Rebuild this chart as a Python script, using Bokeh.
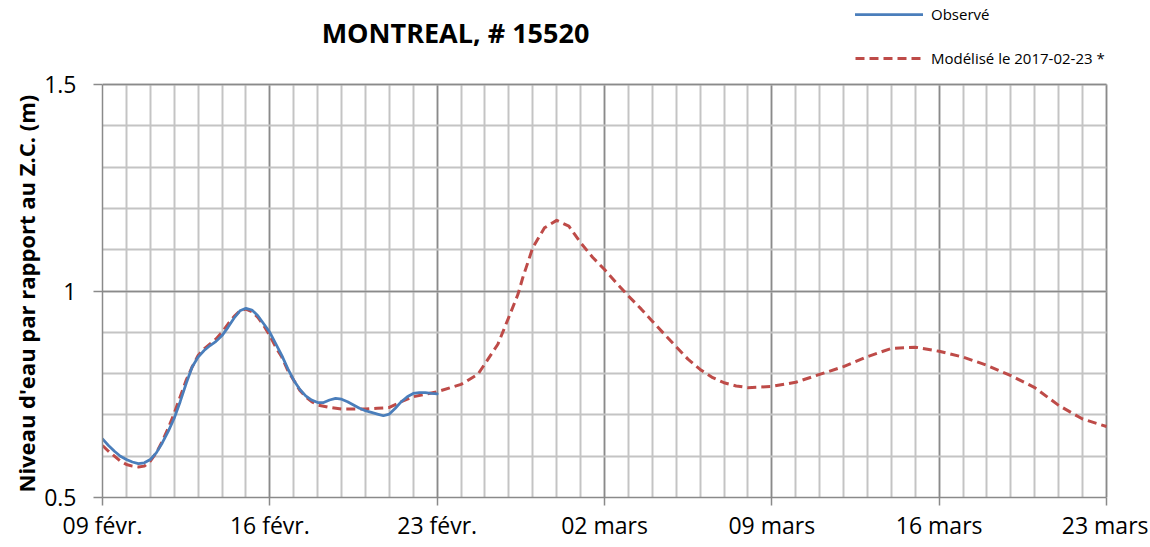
from bokeh.plotting import figure
from bokeh.models import Range1d, FixedTicker, Legend, LegendItem, Label, Title
from bokeh.embed import file_html
from bokeh.resources import INLINE

# ---- data (days after 09 Feb 2017) ----
obs_days = [0, 0.25, 0.5, 0.75, 1, 1.25, 1.5, 1.75, 2, 2.25, 2.5, 2.75, 3,
            3.25, 3.5, 3.75, 4, 4.25, 4.5, 4.75, 5, 5.25, 5.5, 5.75, 6, 6.25,
            6.5, 6.75, 7, 7.25, 7.5, 7.75, 8, 8.25, 8.5, 8.75, 9, 9.25, 9.5,
            9.75, 10, 10.25, 10.5, 10.75, 11, 11.25, 11.5, 11.75, 12, 12.25,
            12.5, 12.75, 13, 13.25, 13.5, 13.75, 14]
obs_vals = [0.642, 0.626, 0.612, 0.600, 0.592, 0.586, 0.582, 0.584, 0.592,
            0.608, 0.632, 0.660, 0.692, 0.732, 0.776, 0.816, 0.840, 0.856,
            0.868, 0.878, 0.892, 0.912, 0.934, 0.952, 0.958, 0.954, 0.940,
            0.920, 0.900, 0.872, 0.844, 0.812, 0.784, 0.762, 0.746, 0.736,
            0.730, 0.730, 0.736, 0.740, 0.738, 0.732, 0.724, 0.716, 0.710,
            0.706, 0.702, 0.698, 0.702, 0.716, 0.732, 0.744, 0.752, 0.754,
            0.754, 0.752, 0.751]

mod_days = [0, 0.25, 0.5, 0.75, 1, 1.25, 1.5, 1.75, 2, 2.25, 2.5, 2.75, 3,
            3.25, 3.5, 3.75, 4, 4.25, 4.5, 4.75, 5, 5.25, 5.5, 5.75, 6, 6.25,
            6.5, 6.75, 7, 7.25, 7.5, 7.75, 8, 8.25, 8.5, 8.75, 9, 9.5, 10,
            10.5, 11, 11.5, 12, 12.5, 13, 13.5, 14, 15, 15.7, 16, 16.54,
            17, 17.38, 17.58, 18, 18.49, 19, 19.51, 20, 20.51, 21, 21.49, 22,
            22.54, 23, 23.51, 24, 24.49, 25, 25.53, 26, 26.51, 27, 28, 29, 30,
            31, 32, 33, 34, 35, 36, 37, 38, 39, 40, 41, 42]
mod_vals = [0.626, 0.612, 0.600, 0.588, 0.580, 0.576, 0.574, 0.576, 0.588,
            0.608, 0.636, 0.668, 0.704, 0.744, 0.784, 0.816, 0.844, 0.860,
            0.872, 0.884, 0.900, 0.920, 0.938, 0.952, 0.956, 0.950, 0.936,
            0.916, 0.892, 0.864, 0.840, 0.808, 0.784, 0.760, 0.744, 0.732,
            0.724, 0.718, 0.714, 0.714, 0.714, 0.716, 0.718, 0.732, 0.744,
            0.750, 0.756, 0.774, 0.798, 0.824, 0.871, 0.937, 0.992, 1.032,
            1.105, 1.153, 1.171, 1.157, 1.117, 1.081, 1.052, 1.020, 0.988,
            0.956, 0.927, 0.895, 0.865, 0.835, 0.810, 0.790, 0.778, 0.770,
            0.766, 0.769, 0.779, 0.798, 0.817, 0.841, 0.861, 0.864, 0.854,
            0.840, 0.820, 0.795, 0.766, 0.723, 0.690, 0.672]

x_tick_days = [0, 7, 14, 21, 28, 35, 42]
x_tick_labels = ["09 févr.", "16 févr.", "23 févr.", "02 mars", "09 mars",
                 "16 mars", "23 mars"]
y_ticks = [0.5, 1.0, 1.5]
y_tick_labels = ["0.5", "1", "1.5"]

title_text = "MONTREAL, # 15520"
y_label = "Niveau d'eau par rapport au Z.C. (m)"
obs_name = "Observé"
mod_name = "Modélisé le 2017-02-23 *"

FONT = "Open Sans"
BLUE = "#4a7ebb"
RED = "#be4b48"
MAJOR = "#8a8a8a"
MINOR = "#c4c4c4"

W, H = 1148, 545
LEFT, BOTTOM = 102, 48
PLOT_TOP_PX = 84          # screen y of value 1.5
PLOT_RIGHT_PX = 1106      # screen x of last day
x_lo, x_hi = x_tick_days[0], x_tick_days[-1]
y_lo, y_hi = y_ticks[0], y_ticks[-1]
frame_h = H - BOTTOM
frame_w = W - LEFT
px_per_day = (PLOT_RIGHT_PX - LEFT) / (x_hi - x_lo)
px_per_unit = (frame_h - PLOT_TOP_PX) / (y_hi - y_lo)
x_end = x_lo + frame_w / px_per_day
y_end = y_lo + frame_h / px_per_unit

p = figure(width=W, height=H, output_backend="svg", toolbar_location=None,
           x_range=Range1d(x_lo, x_end), y_range=Range1d(y_lo, y_end),
           min_border_left=LEFT, min_border_right=0, min_border_top=0,
           min_border_bottom=BOTTOM)
p.outline_line_color = None
p.background_fill_color = "white"
p.border_fill_color = "white"

# axes / ticks
p.xaxis.ticker = FixedTicker(ticks=x_tick_days, minor_ticks=list(range(x_lo, x_hi + 1)))
p.yaxis.ticker = FixedTicker(ticks=y_ticks,
                             minor_ticks=[round(y_lo + 0.1 * i, 2) for i in range(11)])
p.xaxis.major_label_overrides = {d: l for d, l in zip(x_tick_days, x_tick_labels)}
p.yaxis.major_label_overrides = {d: l for d, l in zip(y_ticks, y_tick_labels)}
p.xaxis.bounds = (x_lo, x_hi)
p.yaxis.bounds = (y_lo, y_hi)

for ax in (p.xaxis[0], p.yaxis[0]):
    ax.axis_line_color = MAJOR
    ax.axis_line_width = 1.5
    ax.major_tick_line_color = MAJOR
    ax.major_tick_line_width = 1.5
    ax.major_tick_in = 0
    ax.major_tick_out = 8
    ax.minor_tick_in = 0
    ax.minor_tick_out = 0
    ax.major_label_text_font = FONT
    ax.major_label_text_font_size = "23px"
    ax.major_label_text_color = "black"

p.yaxis.major_tick_out = 9
p.xaxis.major_label_standoff = 3
p.yaxis.major_label_standoff = 17

# y-axis title (vertical, starting at the bottom of the 0.5-1.5 span)
ytitle = Title(text=y_label, align="left", offset=5, standoff=2,
               text_font=FONT, text_font_size="22px", text_font_style="bold",
               text_color="black")
p.add_layout(ytitle, "left")

# grids
xg, yg = p.xgrid[0], p.ygrid[0]
for g in (xg, yg):
    g.grid_line_color = MAJOR
    g.grid_line_width = 1.5
    g.minor_grid_line_color = MINOR
    g.minor_grid_line_width = 2
xg.bounds = (x_lo, x_hi)
yg.bounds = (y_lo, y_hi)
xg.cross_bounds = (y_lo, y_hi)
yg.cross_bounds = (x_lo, x_hi)

# series
r_mod = p.line(mod_days, mod_vals, line_color=RED, line_width=3,
               line_dash="9 5", line_join="round")
r_obs = p.line(obs_days, obs_vals, line_color=BLUE, line_width=2.75,
               line_join="round", line_cap="round")

legend = Legend(items=[LegendItem(label=obs_name, renderers=[r_obs]),
                       LegendItem(label=mod_name, renderers=[r_mod])],
                location=(753, frame_h - 68), orientation="vertical",
                glyph_width=68, glyph_height=12, label_height=12,
                label_standoff=8, spacing=24, padding=0, margin=0,
                border_line_color=None, background_fill_alpha=0,
                label_text_font=FONT, label_text_font_size="15px",
                label_text_color="black")
p.add_layout(legend, "center")

title = Label(x=353, y=frame_h - 32, x_units="screen", y_units="screen",
              text=title_text, text_font=FONT, text_font_size="27px",
              text_font_style="bold", text_align="center",
              text_baseline="middle", text_color="black")
p.add_layout(title)

open("out.html", "w").write(file_html(p, INLINE))
